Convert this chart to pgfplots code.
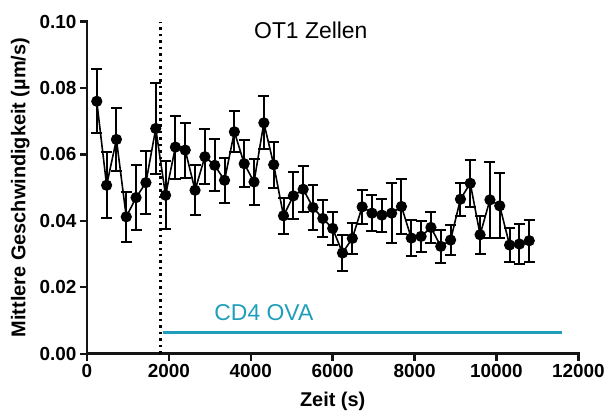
\documentclass[border=0pt]{standalone}
\usepackage{pgfplots}
\pgfplotsset{compat=1.18}
\usepackage{pgfplotstable}
\usepackage{fontspec}
\setmainfont{Liberation Sans}
\definecolor{ova}{RGB}{30,158,186}
\definecolor{axisc}{RGB}{20,20,20}
\pgfplotstableread{
x y e
240 0.0760 0.0097
480 0.0507 0.0100
720 0.0645 0.0095
960 0.0412 0.0075
1200 0.0470 0.0098
1440 0.0515 0.0095
1680 0.0678 0.0136
1920 0.0477 0.0102
2160 0.0622 0.0095
2400 0.0613 0.0083
2640 0.0492 0.0075
2880 0.0593 0.0083
3120 0.0567 0.0078
3360 0.0522 0.0068
3600 0.0668 0.0062
3840 0.0572 0.0070
4080 0.0517 0.0070
4320 0.0695 0.0080
4560 0.0569 0.0069
4800 0.0415 0.0055
5040 0.0475 0.0071
5280 0.0495 0.0069
5520 0.0440 0.0067
5760 0.0407 0.0055
6000 0.0377 0.0050
6240 0.0303 0.0053
6480 0.0347 0.0046
6720 0.0442 0.0051
6960 0.0423 0.0055
7200 0.0417 0.0050
7440 0.0423 0.0091
7680 0.0443 0.0082
7920 0.0348 0.0055
8160 0.0353 0.0046
8400 0.0380 0.0047
8640 0.0323 0.0050
8880 0.0342 0.0044
9120 0.0465 0.0050
9360 0.0513 0.0070
9600 0.0358 0.0057
9840 0.0463 0.0114
10080 0.0445 0.0098
10320 0.0327 0.0050
10560 0.0330 0.0060
10800 0.0340 0.0063
}\datatable
\begin{document}
\begin{tikzpicture}
\path (-87.3pt,-60pt) (520.7pt,355pt);
\begin{axis}[
  at={(0,0)}, anchor=south west,
  scale only axis, width=493.4pt, height=333.3pt,
  xmin=0, xmax=12000, ymin=0, ymax=0.1,
  axis x line*=bottom, axis y line*=left,
  axis line style={line width=2pt, axisc},
  xtick={0,2000,4000,6000,8000,10000,12000},
  ytick={0,0.02,0.04,0.06,0.08,0.1},
  scaled x ticks=false, scaled y ticks=false,
  major tick style={line width=2pt, axisc},
  tick align=outside, major tick length=7pt,
  xticklabel={\pgfmathprintnumber[1000 sep={},assume math mode=true]{\tick}},
  yticklabel={\pgfmathprintnumber[fixed,fixed zerofill,precision=2,assume math mode=true]{\tick}},
  tick label style={font=\fontsize{19}{19}\selectfont\bfseries},
  label style={font=\fontsize{20}{20}\selectfont\bfseries},
  xlabel={Zeit (s)},
  ylabel={Mittlere Geschwindigkeit (µm/s)},
  xlabel style={at={(axis description cs:0.5,0)}, anchor=center, yshift=-48pt},
  ylabel style={at={(axis description cs:0,0.5)}, anchor=center, yshift=67pt},
  clip=false,
  unbounded coords=jump,
]
\addplot[axisc, line width=2.5pt, line cap=rect, forget plot] coordinates {(0,0.1) (0,0) (12000,0)};
\addplot[axisc, line width=2.5pt, forget plot] coordinates {
 (0,0) (0,-0.0021) (nan,nan)
 (2000,0) (2000,-0.0021) (nan,nan)
 (4000,0) (4000,-0.0021) (nan,nan)
 (6000,0) (6000,-0.0021) (nan,nan)
 (8000,0) (8000,-0.0021) (nan,nan)
 (10000,0) (10000,-0.0021) (nan,nan)
 (12000,0) (12000,-0.0021) (nan,nan)
 (0,0.02) (-170,0.02) (nan,nan)
 (0,0.04) (-170,0.04) (nan,nan)
 (0,0.06) (-170,0.06) (nan,nan)
 (0,0.08) (-170,0.08) (nan,nan)
 (0,0.1) (-170,0.1)
};
\addplot[black, line width=2.8pt, dash pattern=on 2.5pt off 4pt] coordinates {(1800,0) (1800,0.1)};
\addplot[ova, line width=2.8pt] coordinates {(1850,0.0064) (11600,0.0064)};
\addplot[black, line width=1.6pt, mark=*, mark size=4.8pt, mark options={fill=black, solid},
  error bars/.cd, y dir=both, y explicit,
  error bar style={line width=2pt, black},
  error mark options={rotate=90, mark size=5.5pt, line width=2pt, black}]
  table[x=x, y=y, y error=e] {\datatable};
\node[anchor=base, font=\fontsize{23}{23}\selectfont] at (axis cs:5467,0.095) {OT1 Zellen};
\node[anchor=base, font=\fontsize{23}{23}\selectfont, text=ova] at (axis cs:4320,0.0100) {CD4 OVA};
\end{axis}
\end{tikzpicture}
\end{document}
